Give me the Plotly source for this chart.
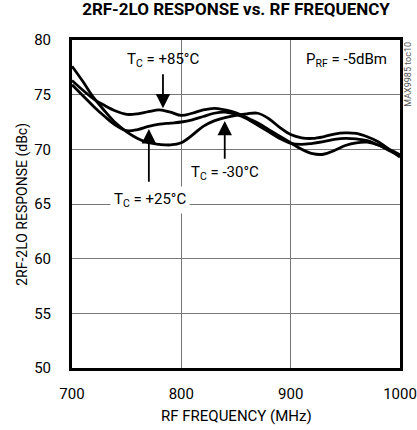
import plotly.graph_objects as go

freq = [700, 710, 720, 730, 740, 750, 760, 770, 780, 790, 800, 810, 820, 830, 840, 850,
        860, 870, 880, 890, 900, 910, 920, 930, 940, 950, 960, 970, 980, 990, 1000]

resp_m30 = [77.6, 76.2, 74.7, 73.5, 72.4, 71.6, 71.0, 70.6, 70.45, 70.4, 70.6, 71.3, 72.1, 72.6,
            72.9, 73.1, 73.25, 73.3, 72.8, 72.0, 71.35, 71.05, 71.0, 71.15, 71.4, 71.5, 71.45,
            71.15, 70.7, 70.0, 69.3]
resp_p85 = [76.3, 75.4, 74.6, 74.0, 73.5, 73.2, 73.25, 73.45, 73.6, 73.4, 73.1, 73.3, 73.6, 73.75,
            73.6, 73.35, 72.9, 72.4, 71.8, 71.2, 70.6, 70.0, 69.6, 69.55, 69.9, 70.35, 70.6,
            70.65, 70.4, 69.9, 69.4]
resp_p25 = [75.9, 74.9, 73.9, 73.0, 72.2, 71.7, 71.8, 72.1, 72.3, 72.4, 72.5, 72.7, 73.0, 73.3,
            73.4, 73.2, 72.8, 72.2, 71.6, 71.0, 70.55, 70.45, 70.55, 70.7, 70.9, 71.0, 70.95,
            70.8, 70.4, 70.0, 69.5]

x_ticks = [700, 800, 900, 1000]
y_ticks = [50, 55, 60, 65, 70, 75, 80]

FONT = "Roboto, Liberation Sans, sans-serif"

fig = go.Figure()
for ys in (resp_m30, resp_p85, resp_p25):
    fig.add_trace(go.Scatter(x=freq, y=ys, mode="lines",
                             line=dict(color="black", width=2.8, shape="spline", smoothing=1.0),
                             showlegend=False, hoverinfo="skip"))

ann = []
ann.append(dict(x=783, y=78.2, text="T<sub>C</sub> = +85°C", showarrow=False,
                font=dict(size=15, family=FONT, color="black")))
ann.append(dict(x=951, y=78.2, text="P<sub>RF</sub> = -5dBm", showarrow=False,
                font=dict(size=15, family=FONT, color="black")))
ann.append(dict(x=840, y=67.8, text="T<sub>C</sub> = -30°C", showarrow=False,
                font=dict(size=15, family=FONT, color="black")))
ann.append(dict(x=771, y=65.35, text="T<sub>C</sub> = +25°C", showarrow=False,
                bgcolor="white", borderpad=3,
                font=dict(size=15, family=FONT, color="black")))
ann.append(dict(x=783.2, y=73.75, ax=783.2, ay=77.0, axref="x", ayref="y", text="",
                showarrow=True, arrowhead=2, arrowsize=1.6, arrowwidth=1.8, arrowcolor="black"))
ann.append(dict(x=839.7, y=72.6, ax=839.7, ay=69.0, axref="x", ayref="y", text="",
                showarrow=True, arrowhead=2, arrowsize=1.6, arrowwidth=1.8, arrowcolor="black"))
ann.append(dict(x=770.3, y=71.85, ax=770.3, ay=66.9, axref="x", ayref="y", text="",
                showarrow=True, arrowhead=2, arrowsize=1.6, arrowwidth=1.8, arrowcolor="black"))
ann.append(dict(x=1.022, y=1.0, xref="paper", yref="paper", text="MAX9985 toc10",
                textangle=-90, showarrow=False, xanchor="center", yanchor="top",
                font=dict(size=9, family=FONT, color="#555")))
# axis titles
ann.append(dict(x=-0.153, y=0.5, xref="paper", yref="paper", text="2RF-2LO RESPONSE (dBc)",
                textangle=-90, showarrow=False, xanchor="center", yanchor="middle",
                font=dict(size=14, family=FONT, color="black")))
ann.append(dict(x=0.5, y=-0.146, xref="paper", yref="paper", text="RF FREQUENCY (MHz)",
                showarrow=False, xanchor="center", yanchor="middle",
                font=dict(size=15, family=FONT, color="black")))

fig.update_layout(
    width=417, height=430,
    margin=dict(l=72, r=17, t=40, b=62, autoexpand=False),
    paper_bgcolor="white", plot_bgcolor="white",
    title=dict(text="<b>2RF-2LO RESPONSE vs. RF FREQUENCY</b>", x=0.566, xanchor="center",
               y=0.992, yanchor="top",
               font=dict(size=17, family=FONT, color="black")),
    xaxis=dict(range=[700, 1000], tickvals=x_ticks, ticks="outside", ticklen=10,
               tickcolor="rgba(0,0,0,0)", showgrid=True, ticklabeloverflow="allow",
               gridcolor="#777", gridwidth=1, zeroline=False,
               showline=True, linecolor="black", linewidth=3, mirror=True,
               tickfont=dict(size=15, family=FONT, color="black")),
    yaxis=dict(range=[50, 80], tickvals=y_ticks, ticks="outside", ticklen=15,
               tickcolor="rgba(0,0,0,0)", showgrid=True,
               gridcolor="#777", gridwidth=1, zeroline=False,
               showline=True, linecolor="black", linewidth=3, mirror=True,
               tickfont=dict(size=15, family=FONT, color="black")),
    annotations=ann,
)

fig.write_html("out.html",
               config={"displayModeBar": False, "staticPlot": True},
               post_script="document.body.style.margin='0';"
                           "document.documentElement.style.overflow='hidden';")
